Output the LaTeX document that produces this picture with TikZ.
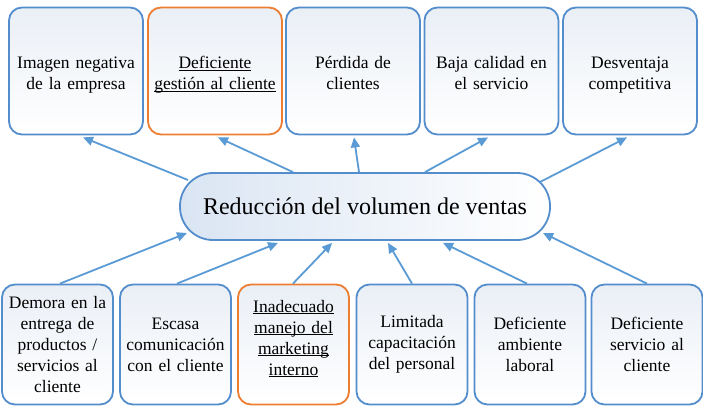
\documentclass[tikz,border=0pt]{standalone}
\usepackage{fontspec}
\setmainfont{Liberation Serif}
\usetikzlibrary{arrows.meta}
\newcommand\myul[1]{\underline{\smash{#1}}}
\definecolor{bluebd}{RGB}{84,141,204}
\definecolor{orangebd}{RGB}{237,125,49}
\definecolor{arrowc}{RGB}{91,155,213}
\definecolor{boxfill}{RGB}{234,239,246}
\definecolor{mainfill}{RGB}{218,229,243}
\begin{document}
\begin{tikzpicture}[x=1pt,y=1pt,
  box/.style={draw=bluebd, line width=1.8pt, rounded corners=13pt, align=center,
    inner sep=0pt, top color=boxfill, bottom color=white},
  topbox/.style={box, minimum width=134pt, minimum height=127pt, text width=128pt,
    font=\fontsize{17.5}{21}\selectfont,
    execute at begin node={\rule{0pt}{21pt}},
    execute at end node={\rule[-5pt]{0pt}{5pt}}},
  botbox/.style={box, minimum width=111pt, minimum height=120pt, text width=108pt,
    font=\fontsize{17.5}{21}\selectfont},
  hl/.style={draw=orangebd},
  mainbox/.style={draw=bluebd, line width=1.8pt, rounded corners=33pt, minimum width=370pt,
    minimum height=67pt, inner sep=0pt, left color=mainfill, right color=white,
    font=\fontsize{24}{28}\selectfont},
  arr/.style={draw=arrowc, line width=1.8pt, -{Triangle[length=10pt,width=9pt]}}
]
\fill[white] (0,0) rectangle (703,416);
\useasboundingbox (0,0) rectangle (703,416);

% top boxes
\node[topbox] (t1) at (76,345) {Imagen negativa\\de la empresa};
\node[topbox,hl] (t2) at (215,345) {\myul{Deficiente}\\\myul{gestión al cliente}};
\node[topbox] (t3) at (353,345) {Pérdida de\\clientes};
\node[topbox] (t4) at (491.5,345) {Baja calidad en\\el servicio};
\node[topbox] (t5) at (630,345) {Desventaja\\competitiva};

% central
\node[mainbox] (c) at (365,209.5) {Reducción del volumen de ventas};

% bottom boxes
\node[botbox] (b1) at (57.5,71.5) {Demora en la\\entrega de\\productos /\\servicios al\\cliente};
\node[botbox] (b2) at (175.5,71.5) {Escasa\\comunicación\\con el cliente};
\node[botbox,hl] (b3) at (293.5,71.5) {\myul{Inadecuado}\\\myul{manejo del}\\\myul{marketing}\\\myul{interno}};
\node[botbox] (b4) at (412,71.5) {Limitada\\capacitación\\del personal};
\node[botbox] (b5) at (530,71.5) {Deficiente\\ambiente\\laboral};
\node[botbox] (b6) at (647,71.5) {Deficiente\\servicio al\\cliente};

% top arrows
\draw[arr] ([shift={(-177,26.5)}]c.center) -- ([xshift=7pt,yshift=-2pt]t1.south);
\draw[arr] ([xshift=-72pt]c.north) -- ([xshift=3pt,yshift=-2pt]t2.south);
\draw[arr] ([xshift=-6pt]c.north) -- ([xshift=1pt,yshift=-2pt]t3.south);
\draw[arr] ([xshift=60pt]c.north) -- ([xshift=-3.5pt,yshift=-2pt]t4.south);
\draw[arr] ([shift={(175,24.5)}]c.center) -- ([xshift=-3pt,yshift=-2pt]t5.south);

% bottom arrows
\draw[arr] ([xshift=2.5pt]b1.north) -- ([shift={(-178,-26.5)}]c.center);
\draw[arr] ([xshift=1.5pt]b2.north) -- ([xshift=-87pt,yshift=-2pt]c.south);
\draw[arr] ([xshift=-0.5pt]b3.north) -- ([xshift=-33pt,yshift=-2pt]c.south);
\draw[arr] (b4.north) -- ([xshift=23pt,yshift=-2pt]c.south);
\draw[arr] ([xshift=-3pt]b5.north) -- ([xshift=78pt,yshift=-2pt]c.south);
\draw[arr] (b6.north) -- ([shift={(178,-26.5)}]c.center);
\end{tikzpicture}
\end{document}
